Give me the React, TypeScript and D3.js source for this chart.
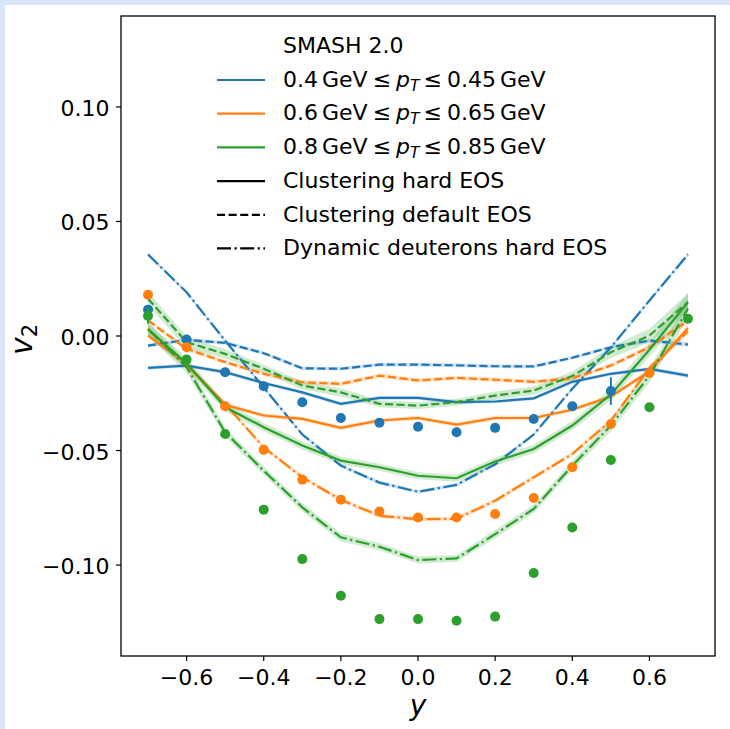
import React from "react";
import * as d3 from "d3";

// ---------- data ----------
const rapidity = [-0.7, -0.6, -0.5, -0.4, -0.3, -0.2, -0.1, 0.0, 0.1, 0.2, 0.3, 0.4, 0.5, 0.6, 0.7];

const blueHard = [-0.0139, -0.0129, -0.0158, -0.0205, -0.0246, -0.0296, -0.027, -0.027, -0.0289, -0.0286, -0.0272, -0.02, -0.0165, -0.0144, -0.0173];
const blueDefault = [-0.0042, -0.0017, -0.003, -0.0075, -0.0141, -0.0143, -0.0125, -0.0125, -0.0128, -0.0132, -0.0133, -0.0095, -0.0049, -0.002, -0.0037];
const blueDynamic = [0.0356, 0.0191, -0.002, -0.0225, -0.043, -0.0566, -0.064, -0.068, -0.065, -0.056, -0.043, -0.023, -0.005, 0.0155, 0.0356];

const orangeHard = [0.0002, -0.012, -0.03, -0.0347, -0.0362, -0.0401, -0.0369, -0.0358, -0.0387, -0.0358, -0.0358, -0.0322, -0.0264, -0.0155, 0.0035];
const orangeDefault = [0.0068, -0.0056, -0.0114, -0.0165, -0.0202, -0.0209, -0.0173, -0.0194, -0.0183, -0.0191, -0.02, -0.0185, -0.0129, -0.0049, 0.0068];
const orangeDynamic = [0.003, -0.013, -0.0297, -0.0486, -0.0617, -0.0715, -0.0785, -0.08, -0.0798, -0.0719, -0.0617, -0.0515, -0.037, -0.014, 0.002];

const greenHard = [0.003, -0.012, -0.031, -0.0398, -0.0478, -0.0544, -0.0573, -0.061, -0.0621, -0.0548, -0.0493, -0.0391, -0.0255, -0.006, 0.0148];
const greenDefault = [0.0163, -0.0027, -0.0078, -0.0143, -0.0216, -0.0246, -0.0296, -0.0304, -0.0289, -0.026, -0.0238, -0.0175, -0.0071, 0.0002, 0.0148];
const greenDynamic = [0.003, -0.0136, -0.042, -0.0588, -0.0748, -0.0879, -0.092, -0.0978, -0.0971, -0.0865, -0.0755, -0.0566, -0.0391, -0.0173, 0.012];

// model uncertainty half-widths
const blueBand = [0.0008, 0.0008, 0.0008, 0.0008, 0.0008, 0.0008, 0.0008, 0.0008, 0.0008, 0.0008, 0.0008, 0.0008, 0.0008, 0.0008, 0.001];
const orangeBand = [0.001, 0.001, 0.001, 0.001, 0.001, 0.001, 0.001, 0.001, 0.001, 0.001, 0.001, 0.001, 0.001, 0.0012, 0.0015];
const greenBand = [0.003, 0.0025, 0.002, 0.0018, 0.0018, 0.0018, 0.0015, 0.0015, 0.0015, 0.0018, 0.0018, 0.002, 0.0025, 0.003, 0.004];

// measured points
const blueDataY = [-0.7, -0.6, -0.5, -0.4, -0.3, -0.2, -0.1, 0.0, 0.1, 0.2, 0.3, 0.4, 0.5];
const blueData = [0.0115, -0.0015, -0.0158, -0.0219, -0.0289, -0.0358, -0.0379, -0.0396, -0.042, -0.0401, -0.0362, -0.0307, -0.024];
const blueErr = [0.002, 0.001, 0.001, 0.001, 0.001, 0.001, 0.001, 0.001, 0.001, 0.001, 0.001, 0.001, 0.006];

const orangeDataY = [-0.7, -0.6, -0.5, -0.4, -0.3, -0.2, -0.1, 0.0, 0.1, 0.2, 0.3, 0.4, 0.5, 0.6];
const orangeData = [0.018, -0.0049, -0.0307, -0.0497, -0.0627, -0.0715, -0.0766, -0.0792, -0.0792, -0.0777, -0.0707, -0.0573, -0.0384, -0.0161];
const orangeErr = [0.001, 0.001, 0.001, 0.001, 0.001, 0.001, 0.001, 0.001, 0.001, 0.001, 0.001, 0.001, 0.001, 0.001];

const greenDataY = [-0.7, -0.6, -0.5, -0.4, -0.3, -0.2, -0.1, 0.0, 0.1, 0.2, 0.3, 0.4, 0.5, 0.6, 0.7];
const greenData = [0.0088, -0.0103, -0.0428, -0.0758, -0.0974, -0.1134, -0.1236, -0.1236, -0.1243, -0.1225, -0.1035, -0.0836, -0.0541, -0.0311, 0.0075];
const greenErr = [0.0035, 0.001, 0.001, 0.001, 0.001, 0.001, 0.001, 0.001, 0.001, 0.001, 0.001, 0.001, 0.001, 0.001, 0.001];

const xTicks = [-0.6, -0.4, -0.2, 0.0, 0.2, 0.4, 0.6];
const yTicks = [-0.1, -0.05, 0.0, 0.05, 0.1];

const legendTitle = "SMASH 2.0";
const ptRanges = [
  ["0.4", "0.45"],
  ["0.6", "0.65"],
  ["0.8", "0.85"],
];
const styleLabels = ["Clustering hard EOS", "Clustering default EOS", "Dynamic deuterons hard EOS"];

// ---------- styling ----------
const BLUE = "#1f77b4";
const ORANGE = "#ff7f0e";
const GREEN = "#2ca02c";
const FONT = "DejaVu Sans, Liberation Sans, sans-serif";
const LW = 2.2;
const DASHES: Record<string, string | undefined> = {
  solid: undefined,
  dashed: "8.1 3.5",
  dashdot: "14 3.5 2.2 3.5",
};

const W = 730;
const H = 729;
const M = { left: 121, right: 715, top: 16, bottom: 656 };

const fmt = (v: number) => {
  const s = d3.format(".2f")(Math.abs(v));
  return (v < -1e-9 ? "\u2212" : "") + s;
};
const fmtX = (v: number) => {
  const s = d3.format(".1f")(Math.abs(v));
  return (v < -1e-9 ? "\u2212" : "") + s;
};

export default function App() {
  const x = d3.scaleLinear().domain([-0.77, 0.77]).range([M.left, M.right]);
  const y = d3.scaleLinear().domain([-0.1397, 0.1397]).range([M.bottom, M.top]);

  const line = d3
    .line<number>()
    .x((_, i) => x(rapidity[i]))
    .y((d) => y(d));

  const band = (vals: number[], w: number[]) =>
    d3
      .area<number>()
      .x((_, i) => x(rapidity[i]))
      .y0((d, i) => y(d - w[i]))
      .y1((d, i) => y(d + w[i]))(vals) || "";

  const series = [
    { color: BLUE, vals: blueHard, style: "solid", w: blueBand },
    { color: BLUE, vals: blueDefault, style: "dashed", w: blueBand },
    { color: BLUE, vals: blueDynamic, style: "dashdot", w: blueBand },
    { color: ORANGE, vals: orangeHard, style: "solid", w: orangeBand },
    { color: ORANGE, vals: orangeDefault, style: "dashed", w: orangeBand },
    { color: ORANGE, vals: orangeDynamic, style: "dashdot", w: orangeBand },
    { color: GREEN, vals: greenHard, style: "solid", w: greenBand },
    { color: GREEN, vals: greenDefault, style: "dashed", w: greenBand },
    { color: GREEN, vals: greenDynamic, style: "dashdot", w: greenBand },
  ];

  const points = [
    { color: BLUE, xs: blueDataY, vs: blueData, es: blueErr },
    { color: ORANGE, xs: orangeDataY, vs: orangeData, es: orangeErr },
    { color: GREEN, xs: greenDataY, vs: greenData, es: greenErr },
  ];

  const legendColors = [BLUE, ORANGE, GREEN];
  const legendStyles = ["solid", "dashed", "dashdot"];
  const rowY = [80, 113.6, 147.4, 181.2, 214.8, 248.4];
  const hx0 = 217;
  const hx1 = 265;
  const tx = 283;

  return (
    <>
      <style>{`body{margin:0}`}</style>
      <svg width={W} height={H} style={{ display: "block", fontFamily: FONT }}>
        <rect x={0} y={0} width={W} height={H} fill="#d8e6f5" />
        <rect x={5} y={5} width={W - 5} height={H - 5} fill="#ffffff" />

        <defs>
          <clipPath id="plotclip">
            <rect x={M.left} y={M.top} width={M.right - M.left} height={M.bottom - M.top} />
          </clipPath>
        </defs>

        <g clipPath="url(#plotclip)">
          {series.map((s, i) => (
            <path key={"b" + i} d={band(s.vals, s.w)} fill={s.color} fillOpacity={0.22} stroke="none" />
          ))}
          {series.map((s, i) => (
            <path
              key={"l" + i}
              d={line(s.vals) || ""}
              fill="none"
              stroke={s.color}
              strokeWidth={LW}
              strokeDasharray={DASHES[s.style]}
            />
          ))}
          {points.map((p, k) =>
            p.xs.map((xv, i) => (
              <g key={"p" + k + "-" + i}>
                <line
                  x1={x(xv)}
                  x2={x(xv)}
                  y1={y(p.vs[i] - p.es[i])}
                  y2={y(p.vs[i] + p.es[i])}
                  stroke={p.color}
                  strokeWidth={2}
                />
                <circle cx={x(xv)} cy={y(p.vs[i])} r={5} fill={p.color} />
              </g>
            ))
          )}
        </g>

        {/* frame */}
        <rect
          x={M.left}
          y={M.top}
          width={M.right - M.left}
          height={M.bottom - M.top}
          fill="none"
          stroke="#000"
          strokeWidth={1.3}
        />

        {/* x ticks */}
        {xTicks.map((t) => (
          <g key={"xt" + t}>
            <line x1={x(t)} x2={x(t)} y1={M.bottom} y2={M.bottom + 5} stroke="#000" strokeWidth={1.2} />
            <text x={x(t)} y={685} textAnchor="middle" fontSize={22} fill="#000">
              {fmtX(t)}
            </text>
          </g>
        ))}

        {/* y ticks */}
        {yTicks.map((t) => (
          <g key={"yt" + t}>
            <line x1={M.left - 5} x2={M.left} y1={y(t)} y2={y(t)} stroke="#000" strokeWidth={1.2} />
            <text x={109.5} y={y(t) + 9} textAnchor="end" fontSize={22} fill="#000">
              {fmt(t)}
            </text>
          </g>
        ))}

        {/* axis labels */}
        <text x={x(0)} y={715} textAnchor="middle" fontSize={28} fontStyle="italic" fill="#000">
          y
        </text>
        <text transform="translate(31.5,355) rotate(-90)" fontSize={30} fill="#000">
          <tspan fontStyle="italic">v</tspan>
          <tspan fontSize={21} dy={5}>
            2
          </tspan>
        </text>

        {/* legend */}
        <text x={tx} y={53.3} fontSize={22} fill="#000">
          {legendTitle}
        </text>
        {ptRanges.map((r, i) => (
          <g key={"lg" + i}>
            <line x1={hx0} x2={hx1} y1={rowY[i]} y2={rowY[i]} stroke={legendColors[i]} strokeWidth={LW} />
            <text x={tx} y={rowY[i] + 6.7} fontSize={22} fill="#000">
              <tspan>{r[0]}</tspan>
              <tspan dx={4}>GeV</tspan>
              <tspan dx={5}>≤</tspan>
              <tspan dx={5} fontStyle="italic">
                p
              </tspan>
              <tspan fontStyle="italic" fontSize={15.5} dy={4}>
                T
              </tspan>
              <tspan dy={-4} dx={4}>
                ≤
              </tspan>
              <tspan dx={5}>{r[1]}</tspan>
              <tspan dx={4}>GeV</tspan>
            </text>
          </g>
        ))}
        {styleLabels.map((lab, i) => (
          <g key={"ls" + i}>
            <line
              x1={hx0}
              x2={hx1}
              y1={rowY[i + 3]}
              y2={rowY[i + 3]}
              stroke="#000"
              strokeWidth={LW}
              strokeDasharray={DASHES[legendStyles[i]]}
            />
            <text x={tx} y={rowY[i + 3] + 6.7} fontSize={22} fill="#000">
              {lab}
            </text>
          </g>
        ))}
      </svg>
    </>
  );
}
